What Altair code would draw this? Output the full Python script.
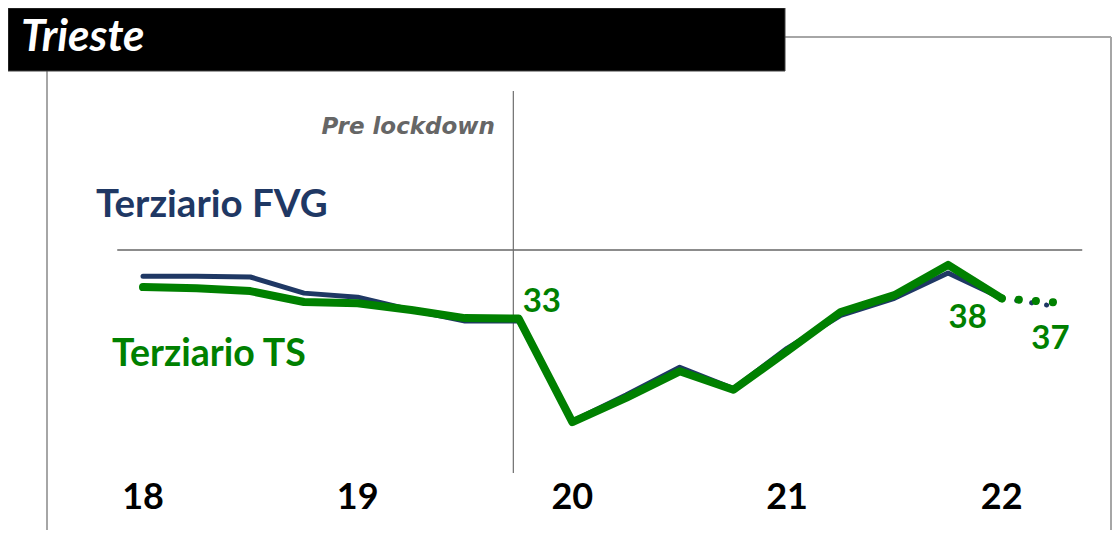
import altair as alt
import pandas as pd

# ---- data ----
quarter_idx = list(range(17))  # 18Q1 .. 22Q1
fvg = [43.5, 43.5, 43.3, 39.3, 38.3, 35.1, 32.4, 32.4, 7.5, 14.0, 20.9, 15.6, 25.6, 33.8, 38.0, 44.3, 38.0]
ts = [40.8, 40.5, 39.8, 37.1, 36.8, 35.1, 33.1, 33.0, 7.3, 13.3, 19.9, 15.3, 24.9, 34.6, 38.8, 46.3, 38.0]
proj_idx = [16, 17]          # 22Q1 -> 22Q2 (projection)
fvg_proj = [38.0, 36.0]
ts_proj = [38.0, 37.0]
year_labels = ["18", "19", "20", "21", "22"]
year_idx = [0, 4, 8, 12, 16]
ref_level = 50
lockdown_idx = 6.9
value_labels = ["33", "38", "37"]
value_label_idx = [7, 16, 17]
value_label_val = [33, 38, 37]

NAVY = "#1F3864"
GREEN = "#008000"
FRAME = "#A6A6A6"
FONT = "Lato"

W, H = 1104, 522

df_fvg = pd.DataFrame({"t": quarter_idx, "v": fvg})
df_ts = pd.DataFrame({"t": quarter_idx, "v": ts})
df_fvg_p = pd.DataFrame({"t": proj_idx, "v": fvg_proj})
df_ts_p = pd.DataFrame({"t": proj_idx, "v": ts_proj})
df_years = pd.DataFrame({"t": year_idx, "lab": year_labels})
df_ref = pd.DataFrame({"t": [-0.48], "t2": [17.5], "v": [ref_level]})
df_lock = pd.DataFrame({"t": [lockdown_idx]})
df_vl = pd.DataFrame({"t": value_label_idx, "v": value_label_val, "lab": value_labels})
one = pd.DataFrame({"a": [0]})

xs = alt.Scale(domain=[0, 17], range=[135, 1047.4])
ys = alt.Scale(domain=[0, 60], range=[443.5, 201.7])
X = alt.X("t:Q", scale=xs, axis=None)
Y = alt.Y("v:Q", scale=ys, axis=None)

# frame and title box
frame_left = alt.Chart(one).mark_rule(color=FRAME, strokeWidth=2).encode(
    x=alt.value(39), y=alt.value(63), y2=alt.value(H))
frame_top = alt.Chart(one).mark_rule(color=FRAME, strokeWidth=2).encode(
    x=alt.value(777), x2=alt.value(1103), y=alt.value(29))
frame_right = alt.Chart(one).mark_rule(color=FRAME, strokeWidth=2).encode(
    x=alt.value(1103), y=alt.value(29), y2=alt.value(H))
title_box = alt.Chart(one).mark_rect(color="black", stroke="#404040", strokeWidth=1).encode(
    x=alt.value(0), x2=alt.value(777), y=alt.value(0), y2=alt.value(63))
title_txt = alt.Chart(one).mark_text(
    text="Trieste", font=FONT, fontSize=44, fontWeight="bold", fontStyle="italic",
    color="white", align="left", baseline="middle").encode(x=alt.value(13), y=alt.value(30))

# reference lines
ref = alt.Chart(df_ref).mark_rule(color="#8C8C8C", strokeWidth=2).encode(
    x=X, x2="t2:Q", y=Y)
lock = alt.Chart(df_lock).mark_rule(color="#6E6E6E", strokeWidth=1.2).encode(
    x=X, y=alt.value(83), y2=alt.value(465))
lock_txt = alt.Chart(one).mark_text(
    text="Pre lockdown", font="DejaVu Sans", fontSize=23, fontWeight="bold", fontStyle="italic",
    color="#666666", align="right", baseline="middle").encode(x=alt.value(487), y=alt.value(119))

# series
line_fvg = alt.Chart(df_fvg).mark_line(color=NAVY, strokeWidth=5, strokeCap="round",
                                       strokeJoin="round").encode(x=X, y=Y)
line_ts = alt.Chart(df_ts).mark_line(color=GREEN, strokeWidth=8, strokeCap="round",
                                     strokeJoin="round").encode(x=X, y=Y)
proj_fvg = alt.Chart(df_fvg_p).mark_line(color=NAVY, strokeWidth=5, strokeCap="round",
                                         strokeDash=[0.1, 15]).encode(x=X, y=Y)
proj_ts = alt.Chart(df_ts_p).mark_line(color=GREEN, strokeWidth=8, strokeCap="round",
                                       strokeDash=[0.1, 17]).encode(x=X, y=Y)

# series names
name_fvg = alt.Chart(one).mark_text(
    text="Terziario FVG", font=FONT, fontSize=38.5, fontWeight="bold", color=NAVY,
    align="left", baseline="middle").encode(x=alt.value(88), y=alt.value(197))
name_ts = alt.Chart(one).mark_text(
    text="Terziario TS", font=FONT, fontSize=37.5, fontWeight="bold", color=GREEN,
    align="left", baseline="middle").encode(x=alt.value(104), y=alt.value(347))

# value labels
vl_style = dict(font=FONT, fontSize=33, fontWeight="bold", color=GREEN, baseline="middle")
lab33 = alt.Chart(df_vl[df_vl.lab == "33"]).mark_text(align="left", dx=4, dy=-17, **vl_style).encode(
    x=X, y=Y, text="lab:N")
lab38 = alt.Chart(df_vl[df_vl.lab == "38"]).mark_text(align="center", dx=-34, dy=20, **vl_style).encode(
    x=X, y=Y, text="lab:N")
lab37 = alt.Chart(df_vl[df_vl.lab == "37"]).mark_text(align="center", dx=-5, dy=37, **vl_style).encode(
    x=X, y=Y, text="lab:N")

# year labels
years = alt.Chart(df_years).mark_text(
    font=FONT, fontSize=36, fontWeight="bold", color="black", baseline="middle").encode(
    x=X, y=alt.value(490), text="lab:N")

chart = alt.layer(
    frame_left, frame_top, frame_right, title_box, title_txt,
    ref, lock, lock_txt,
    line_fvg, proj_fvg, line_ts, proj_ts,
    name_fvg, name_ts, lab33, lab38, lab37, years,
).properties(
    width=W, height=H, padding=0, autosize=alt.AutoSizeParams(type="none")
).configure_view(stroke=None)

chart.save("out.html", embed_options={"renderer": "svg", "actions": False})
